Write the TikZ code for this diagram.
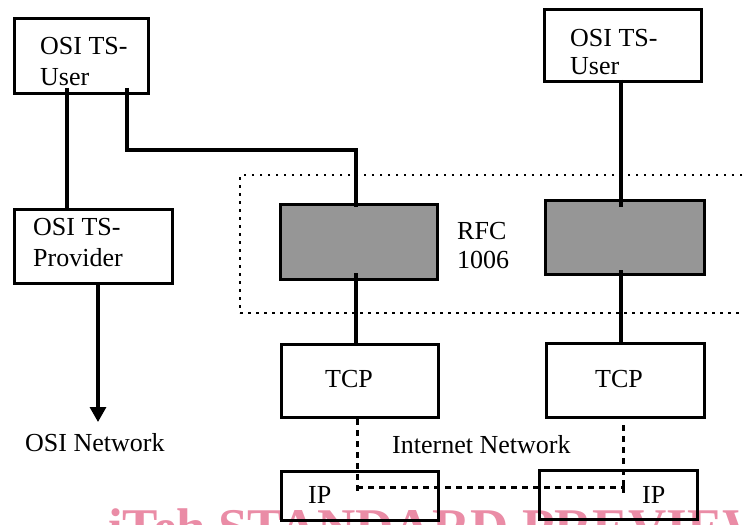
\documentclass[tikz,border=0pt]{standalone}
\usepackage{fontspec}
\setmainfont{Liberation Serif}
\usetikzlibrary{arrows.meta,calc}
\definecolor{wm}{RGB}{234,140,166}
\definecolor{shadegray}{RGB}{150,150,150}
\begin{document}
\begin{tikzpicture}[x=1pt,y=-1pt,
 box/.style={draw,line width=3pt,rectangle,inner sep=0pt},
 shbox/.style={box,fill=shadegray},
 grpbox/.style={draw,line width=2.2pt,dash pattern=on 2.5pt off 5.5pt,rectangle,inner sep=0pt},
 conn/.style={draw,line width=3.2pt},
 dsh/.style={draw,line width=3pt,dash pattern=on 6pt off 5pt},
 lbl/.style={inner sep=0pt,anchor=base west,font=\fontsize{26}{30}\selectfont},
 wmk/.style={inner sep=0pt,anchor=base west,text=wm,font=\fontsize{53}{60}\selectfont\bfseries}]
\useasboundingbox (0,0) rectangle (743,524);
\clip (0,0) rectangle (743,524);
\fill[white] (0,0) rectangle (743,524);

% watermark
\node[wmk] (wm1) at (108,545) {iTeh};
\node[wmk] (wm2) at (218,545) {STANDARD};
\node[wmk] (wm3) at (522,545) {PREVIEW};

% dotted RFC 1006 group
\node[grpbox,minimum width=530pt,minimum height=138pt] (grp) at (505,244) {};

% boxes
\node[box,minimum width=134pt,minimum height=75pt] (userL) at (81.5,56) {};
\node[box,minimum width=158pt,minimum height=74pt] (prov) at (93.5,246.5) {};
\node[shbox,minimum width=157pt,minimum height=75pt] (shade1) at (359,242) {};
\node[shbox,minimum width=159pt,minimum height=74pt] (shade2) at (625,237.5) {};
\node[box,minimum width=157pt,minimum height=72pt] (userR) at (623,45.5) {};
\node[box,minimum width=157pt,minimum height=73pt] (tcp1) at (360,381) {};
\node[box,minimum width=158pt,minimum height=74pt] (tcp2) at (625.5,380.5) {};
\node[box,minimum width=157pt,minimum height=49pt] (ip1) at (360,496) {};
\node[box,minimum width=158pt,minimum height=49pt] (ip2) at (618.5,495) {};

% texts
\node[lbl] (tL1) at (40,55) {OSI TS-};
\node[lbl] (tL2) at (40,85) {User};
\node[lbl] (tP1) at (33,235) {OSI TS-};
\node[lbl] (tP2) at (33,266) {Provider};
\node[lbl] (tR1) at (570,47) {OSI TS-};
\node[lbl] (tR2) at (570,75) {User};
\node[lbl] (rfc1) at (457,239) {RFC};
\node[lbl] (rfc2) at (457,268) {1006};
\node[lbl] (tcpA) at (325,387) {TCP};
\node[lbl] (tcpB) at (595,387) {TCP};
\node[lbl] (osinet) at (25,451) {OSI Network};
\node[lbl] (inet) at (392,453) {Internet Network};
\node[lbl] (ipA) at (308,503) {IP};
\node[lbl] (ipB) at (642,503) {IP};

% solid connectors
\draw[conn] ([xshift=-14.5pt,yshift=7pt]userL.south) -- ([xshift=-14.5pt]userL.south |- prov.north);
\draw[conn] ([xshift=45.5pt,yshift=7pt]userL.south) |- ([xshift=-3pt,yshift=53pt]shade1.north) -- ([xshift=-3pt,yshift=-4pt]shade1.north);
\draw[conn] ([xshift=-3pt,yshift=8pt]shade1.south) -- ([xshift=-3pt]shade1.south |- tcp1.north);
\draw[conn] ([xshift=-2pt,yshift=3pt]userR.south) -- ([xshift=-2pt,yshift=-8pt]userR.south |- shade2.north);
\draw[conn] ([xshift=-4pt,yshift=6pt]shade2.south) -- ([xshift=-4pt]shade2.south |- tcp2.north);

\coordinate (tip) at (98,422);
\draw[conn,-{Triangle[width=16pt,length=15pt]}] ([xshift=4.5pt]prov.south) -- (tip);

% dashed internet links
\coordinate (j1) at (357,487);
\coordinate (j2) at (623,487);
\coordinate (j3) at (623,425);
\draw[dsh] (tcp1.south -| j1) -- ++(0,74);
\draw[dsh] (j1) -- (j2) -- ++(0,6);
\draw[dsh] (j3) -- ++(0,68);
\end{tikzpicture}
\end{document}
